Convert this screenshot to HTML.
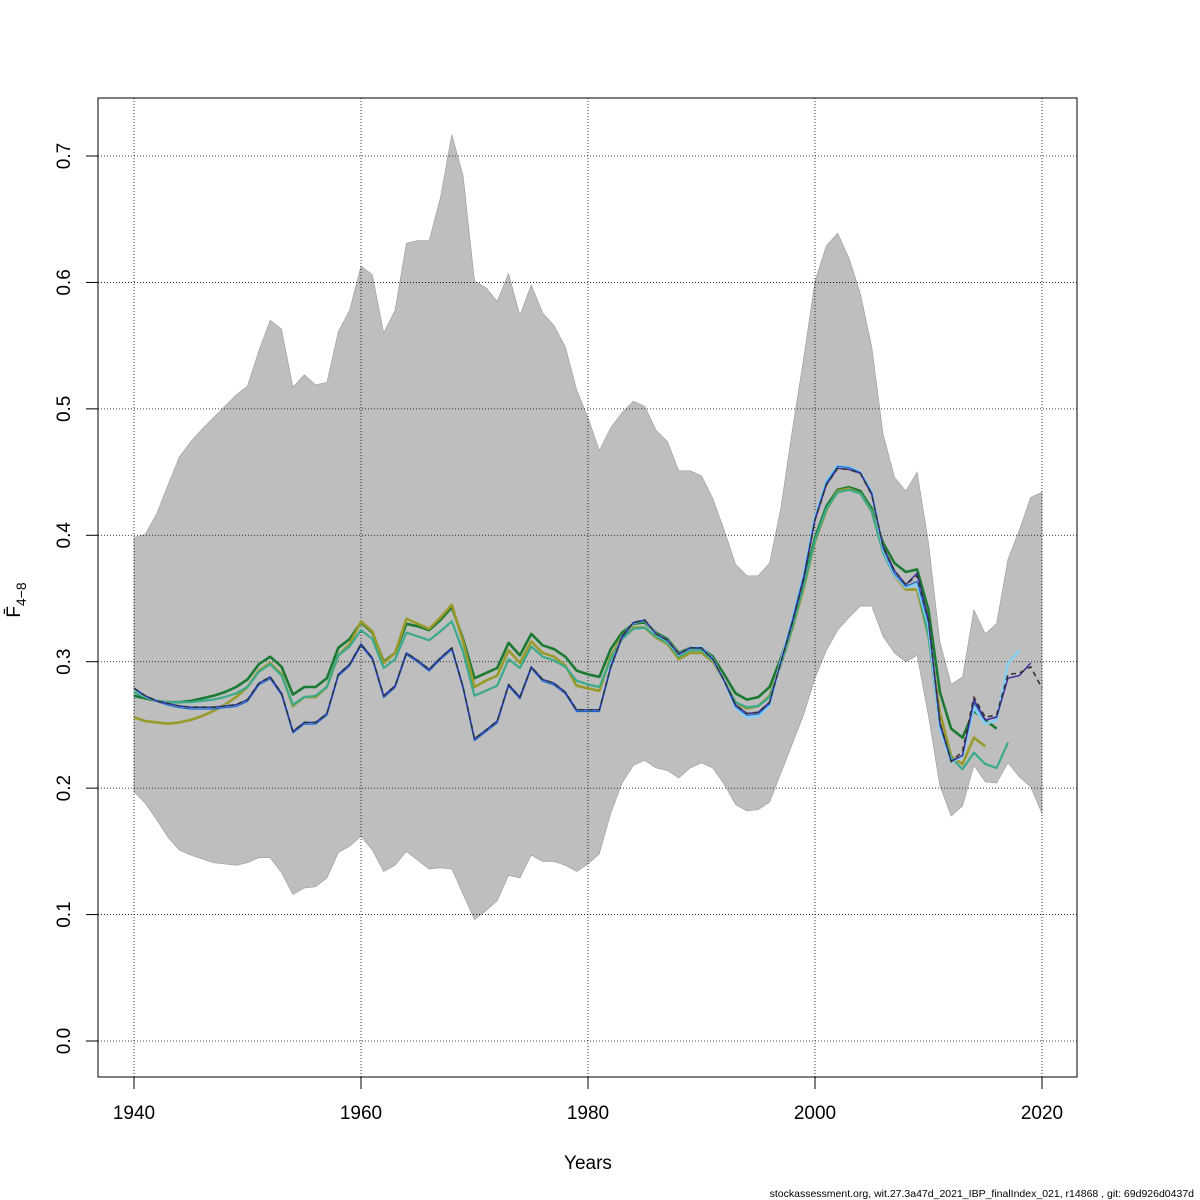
<!DOCTYPE html>
<html><head><meta charset="utf-8"><style>
html,body{margin:0;padding:0;background:#fff}
svg{display:block;font-family:"Liberation Sans","DejaVu Sans",sans-serif}
</style></head><body>
<svg id="chart" width="1200" height="1200" viewBox="0 0 1200 1200" xmlns="http://www.w3.org/2000/svg">
<rect width="1200" height="1200" fill="#fff"/>
<g id="band"></g><g id="grid"></g><g id="lines"></g><g id="axes"></g>
<text x="588" y="1169" font-size="19" text-anchor="middle">Years</text>
<g transform="translate(20,600) rotate(-90)">
<text x="0" y="0" font-size="19" text-anchor="middle">F̄<tspan font-size="14" dy="6">4−8</tspan></text></g>
<text x="1194" y="1197" font-size="10.5" text-anchor="end">stockassessment.org, wit.27.3a47d_2021_IBP_finalIndex_021, r14868 , git: 69d926d0437d</text>
</svg>
<script>
const years=[];for(let y=1940;y<=2020;y++)years.push(y);
const upper=[.398,.401,.417,.44,.462,.474,.484,.493,.502,.511,.518,.546,.570,.563,.517,.527,.519,.521,.561,.578,.613,.606,.560,.578,.631,.633,.633,.667,.717,.684,.601,.596,.585,.607,.574,.598,.576,.566,.549,.515,.493,.467,.485,.497,.506,.502,.483,.474,.451,.451,.447,.429,.404,.377,.368,.368,.378,.422,.483,.540,.601,.629,.639,.619,.591,.549,.480,.446,.435,.450,.394,.316,.282,.288,.341,.322,.330,.381,.404,.430,.434];
const lower=[.197,.188,.175,.161,.151,.147,.144,.141,.140,.139,.141,.145,.145,.133,.116,.121,.122,.129,.149,.154,.162,.151,.134,.139,.150,.143,.136,.137,.136,.116,.096,.103,.111,.131,.129,.147,.142,.142,.139,.134,.140,.148,.180,.204,.218,.222,.216,.214,.208,.216,.220,.216,.203,.187,.182,.183,.189,.212,.235,.258,.287,.309,.325,.335,.344,.344,.320,.307,.300,.305,.257,.202,.178,.186,.218,.205,.204,.220,.209,.201,.180];
const fBlack=[.279,.273,.269,.267,.265,.264,.264,.264,.265,.266,.270,.283,.288,.275,.245,.252,.252,.259,.290,.298,.314,.303,.273,.281,.307,.301,.294,.303,.311,.280,.239,.246,.253,.282,.272,.296,.286,.283,.276,.262,.262,.262,.296,.320,.331,.333,.322,.317,.306,.311,.311,.302,.285,.266,.259,.260,.268,.300,.331,.365,.412,.440,.453,.452,.449,.432,.391,.372,.361,.368,.333,.252,.221,.229,.272,.256,.258,.290,.291,.296,.279];
const fNavy=[.279,.273,.269,.267,.265,.264,.264,.264,.265,.266,.270,.283,.288,.275,.245,.252,.252,.259,.290,.298,.314,.303,.273,.281,.307,.301,.294,.303,.311,.280,.239,.246,.253,.282,.272,.296,.286,.283,.276,.262,.262,.262,.296,.320,.331,.333,.322,.317,.306,.311,.311,.302,.285,.266,.259,.260,.268,.300,.331,.365,.412,.440,.453,.452,.449,.432,.391,.372,.361,.370,.333,.252,.221,.226,.270,.254,.256,.287,.289,.299];
const fLight=[.280,.274,.270,.268,.266,.265,.265,.265,.266,.267,.271,.284,.289,.276,.246,.253,.253,.260,.291,.299,.315,.304,.274,.282,.308,.302,.295,.304,.312,.281,.240,.247,.254,.283,.273,.297,.287,.284,.277,.263,.263,.263,.297,.321,.332,.334,.323,.318,.307,.312,.313,.303,.286,.265,.257,.258,.267,.302,.335,.370,.416,.444,.456,.455,.451,.435,.390,.370,.360,.362,.330,.248,.222,.226,.265,.252,.255,.300,.310];
const fBlue=[.279,.273,.269,.266,.264,.263,.263,.263,.264,.265,.269,.282,.287,.274,.244,.251,.251,.258,.289,.297,.313,.302,.272,.280,.306,.300,.293,.302,.310,.279,.238,.245,.252,.281,.271,.295,.285,.282,.275,.261,.261,.261,.295,.319,.331,.333,.322,.317,.306,.311,.311,.302,.285,.265,.258,.259,.267,.301,.333,.368,.414,.442,.455,.454,.450,.434,.390,.370,.360,.364,.331,.250,.222,.226,.268,.254,.257,.288];
const fGreen=[.273,.271,.269,.268,.268,.269,.271,.273,.276,.280,.286,.298,.304,.296,.274,.280,.280,.287,.311,.318,.331,.323,.300,.307,.330,.328,.325,.333,.343,.318,.287,.291,.295,.315,.305,.322,.313,.310,.304,.293,.290,.288,.310,.323,.330,.331,.323,.318,.307,.311,.311,.304,.290,.275,.270,.272,.280,.303,.330,.362,.398,.423,.436,.438,.435,.421,.394,.378,.371,.373,.341,.276,.247,.240,.261,.254,.247];
const fOlive=[.256,.253,.252,.251,.252,.254,.257,.261,.266,.272,.280,.293,.299,.290,.265,.272,.272,.280,.305,.314,.332,.324,.299,.307,.334,.330,.326,.335,.345,.316,.280,.285,.289,.309,.299,.316,.307,.304,.297,.281,.279,.277,.304,.320,.327,.327,.319,.314,.302,.307,.307,.300,.285,.268,.263,.265,.273,.298,.326,.358,.395,.420,.435,.437,.433,.419,.387,.368,.357,.357,.320,.260,.225,.219,.240,.233];
const fTeal=[.276,.272,.269,.268,.268,.268,.269,.270,.272,.275,.280,.292,.298,.289,.266,.272,.273,.280,.305,.312,.325,.318,.295,.302,.323,.320,.317,.324,.332,.308,.273,.277,.281,.302,.295,.312,.304,.301,.296,.285,.282,.280,.302,.318,.326,.327,.320,.315,.304,.309,.309,.301,.285,.268,.264,.265,.272,.298,.327,.360,.396,.421,.434,.436,.433,.419,.386,.368,.360,.361,.320,.248,.224,.215,.228,.219,.216,.236];
const yTicks=[0,0.1,0.2,0.3,0.4,0.5,0.6,0.7];
const xTicks=[1940,1960,1980,2000,2020];
const NS="http://www.w3.org/2000/svg";
const X=y=>134+(y-1940)*(1042-134)/80;
const Y=v=>1041-v*(1041-156)/0.7;
function mk(tag,attrs,parent){const e=document.createElementNS(NS,tag);for(const k in attrs)e.setAttribute(k,attrs[k]);parent.appendChild(e);return e;}
const band=document.getElementById('band'),grid=document.getElementById('grid'),lines=document.getElementById('lines'),axes=document.getElementById('axes');
let d='';years.forEach((y,i)=>{d+=(i?'L':'M')+X(y)+','+Y(upper[i]);});
for(let i=years.length-1;i>=0;i--)d+='L'+X(years[i])+','+Y(lower[i]);
const bp=mk('path',{d:d+'Z',fill:'#bebebe',stroke:'#999','stroke-width':0.6},band);


yTicks.forEach(v=>{const l=mk('line',{x1:98,x2:1077,y1:Y(v),y2:Y(v),stroke:'#000','stroke-width':0.8,'stroke-dasharray':'1,2'},grid);

});
xTicks.forEach(v=>{const l=mk('line',{x1:X(v),x2:X(v),y1:98,y2:1077,stroke:'#000','stroke-width':0.8,'stroke-dasharray':'1,2'},grid);

});
const series=[[fGreen,'#1a7a32',2.6,null,'series-green',0],[fOlive,'#9a9a2a',2.6,null,'series-olive',0],[fTeal,'#3aaa8c',2.2,null,'series-teal',0],[fLight,'#87cef0',2.6,null,'series-lightblue',1.5],[fBlue,'#1e64d0',1.2,null,'series-blue',0.5],[fNavy,'#3a2a9a',1.4,null,'series-navy',0],[fBlack,'#333',1.6,'5,4','series-final',0]];
series.forEach(([arr,c,w,dash,name,off])=>{let p='';arr.forEach((v,i)=>{p+=(i?'L':'M')+X(years[i]).toFixed(1)+','+(Y(v)+off).toFixed(1);});
const a={d:p,fill:'none',stroke:c,'stroke-width':w,'stroke-linejoin':'round'};if(dash)a['stroke-dasharray']=dash;
const e=mk('path',a,lines);

});
const fr=mk('rect',{x:98,y:98,width:979,height:979,fill:'none',stroke:'#000','stroke-width':1},axes);


yTicks.forEach(v=>{mk('line',{x1:86,x2:98,y1:Y(v),y2:Y(v),stroke:'#000'},axes);
const t=mk('text',{x:0,y:0,'font-size':19,'text-anchor':'middle',transform:`translate(70,${Y(v)}) rotate(-90)`},axes);t.textContent=v.toFixed(1);

});
xTicks.forEach(v=>{mk('line',{x1:X(v),x2:X(v),y1:1077,y2:1089,stroke:'#000'},axes);
const t=mk('text',{x:X(v),y:1119,'font-size':19,'text-anchor':'middle'},axes);t.textContent=v;

});
</script>
</body></html>
